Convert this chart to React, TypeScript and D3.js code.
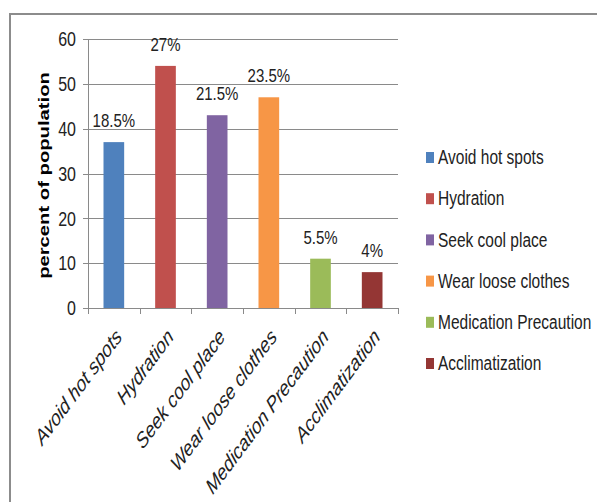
import React from "react";
import * as d3 from "d3";

// Heat-protection measures reported by respondents
const categories = [
  "Avoid hot spots",
  "Hydration",
  "Seek cool place",
  "Wear loose clothes",
  "Medication Precaution",
  "Acclimatization",
];
// Bar heights on the "percent of population" axis
const values = [37, 54, 43, 47, 11, 8];
// Share of all responses shown above each bar
const shareLabels = ["18.5%", "27%", "21.5%", "23.5%", "5.5%", "4%"];
const yTicks = [0, 10, 20, 30, 40, 50, 60];
const colors = ["#4F81BD", "#C0504D", "#8064A2", "#F79646", "#9BBB59", "#943634"];

const W = 598;
const H = 502;
const plot = { left: 88, right: 398, top: 39, bottom: 308 };
const K = 1.3; // vertical text stretch
const FONT = "'Liberation Sans', Arial, sans-serif";
const GRID = "#8a8a8a";

export default function App() {
  const x = d3
    .scaleBand<string>()
    .domain(categories)
    .range([plot.left, plot.right])
    .paddingInner(0.6)
    .paddingOuter(0.3);
  const y = d3.scaleLinear().domain([0, 60]).range([plot.bottom, plot.top]);
  const step = x.step();
  const boundaries = d3.range(categories.length + 1).map((i) => plot.left + i * step);

  const legendY = d3.scalePoint<string>().domain(categories).range([157.5, 363.5]);

  return (
    <svg
      width={W}
      height={H}
      style={{ position: "absolute", left: 0, top: 0, display: "block", background: "#fff" }}
      fontFamily={FONT}
    >
      {/* frame */}
      <line x1={10} x2={597} y1={14} y2={14} stroke="#8c8c8c" strokeWidth={2} />
      <line x1={10} x2={10} y1={13} y2={H} stroke="#8c8c8c" strokeWidth={2} />

      {/* gridlines */}
      {yTicks.map((t) => (
        <line
          key={"g" + t}
          x1={plot.left - 5}
          x2={plot.right}
          y1={Math.round(y(t)) + 0.5}
          y2={Math.round(y(t)) + 0.5}
          stroke={GRID}
          strokeWidth={1}
        />
      ))}
      {/* y axis */}
      <line
        x1={plot.left + 0.5}
        x2={plot.left + 0.5}
        y1={plot.top}
        y2={plot.bottom + 6}
        stroke={GRID}
      />
      {/* x ticks */}
      {boundaries.map((bx, i) => (
        <line
          key={"xt" + i}
          x1={Math.round(bx) + 0.5}
          x2={Math.round(bx) + 0.5}
          y1={plot.bottom}
          y2={plot.bottom + 6}
          stroke={GRID}
        />
      ))}

      {/* y tick labels */}
      {yTicks.map((t) => (
        <text
          key={"yl" + t}
          transform={`translate(76,${y(t)}) scale(1,${K})`}
          textAnchor="end"
          dominantBaseline="central"
          fontSize={16}
          fill="#222"
        >
          {t}
        </text>
      ))}

      {/* y axis title */}
      <text
        transform={`translate(49,${(plot.top + plot.bottom) / 2 + 2}) rotate(-90) scale(${K + 0.05},1)`}
        textAnchor="middle"
        fontSize={15}
        fontWeight="bold"
        fill="#000"
      >
        percent of population
      </text>

      {/* bars */}
      {categories.map((c, i) => (
        <rect
          key={"b" + c}
          x={x(c)}
          y={y(values[i])}
          width={x.bandwidth()}
          height={y(0) - y(values[i])}
          fill={colors[i]}
        />
      ))}

      {/* value labels */}
      {categories.map((c, i) => (
        <text
          key={"v" + c}
          transform={`translate(${(x(c) ?? 0) + x.bandwidth() / 2},${y(values[i]) - 15}) scale(1,${K - 0.05})`}
          textAnchor="middle"
          fontSize={15}
          fill="#222"
        >
          {shareLabels[i]}
        </text>
      ))}

      {/* category labels */}
      {categories.map((c) => (
        <text
          key={"c" + c}
          transform={`translate(${(x(c) ?? 0) + x.bandwidth() / 2 + 9},338) scale(1,${K}) rotate(-46)`}
          textAnchor="end"
          fontSize={17}
          fontStyle="italic"
          fill="#222"
        >
          {c}
        </text>
      ))}

      {/* legend */}
      {categories.map((c, i) => {
        const ly = legendY(c) ?? 0;
        return (
          <g key={"l" + c}>
            <rect x={426} y={ly - 5.5} width={8} height={11} fill={colors[i]} />
            <text
              transform={`translate(438,${ly}) scale(1,${K})`}
              dominantBaseline="central"
              fontSize={15.5}
              fill="#222"
            >
              {c}
            </text>
          </g>
        );
      })}
    </svg>
  );
}
